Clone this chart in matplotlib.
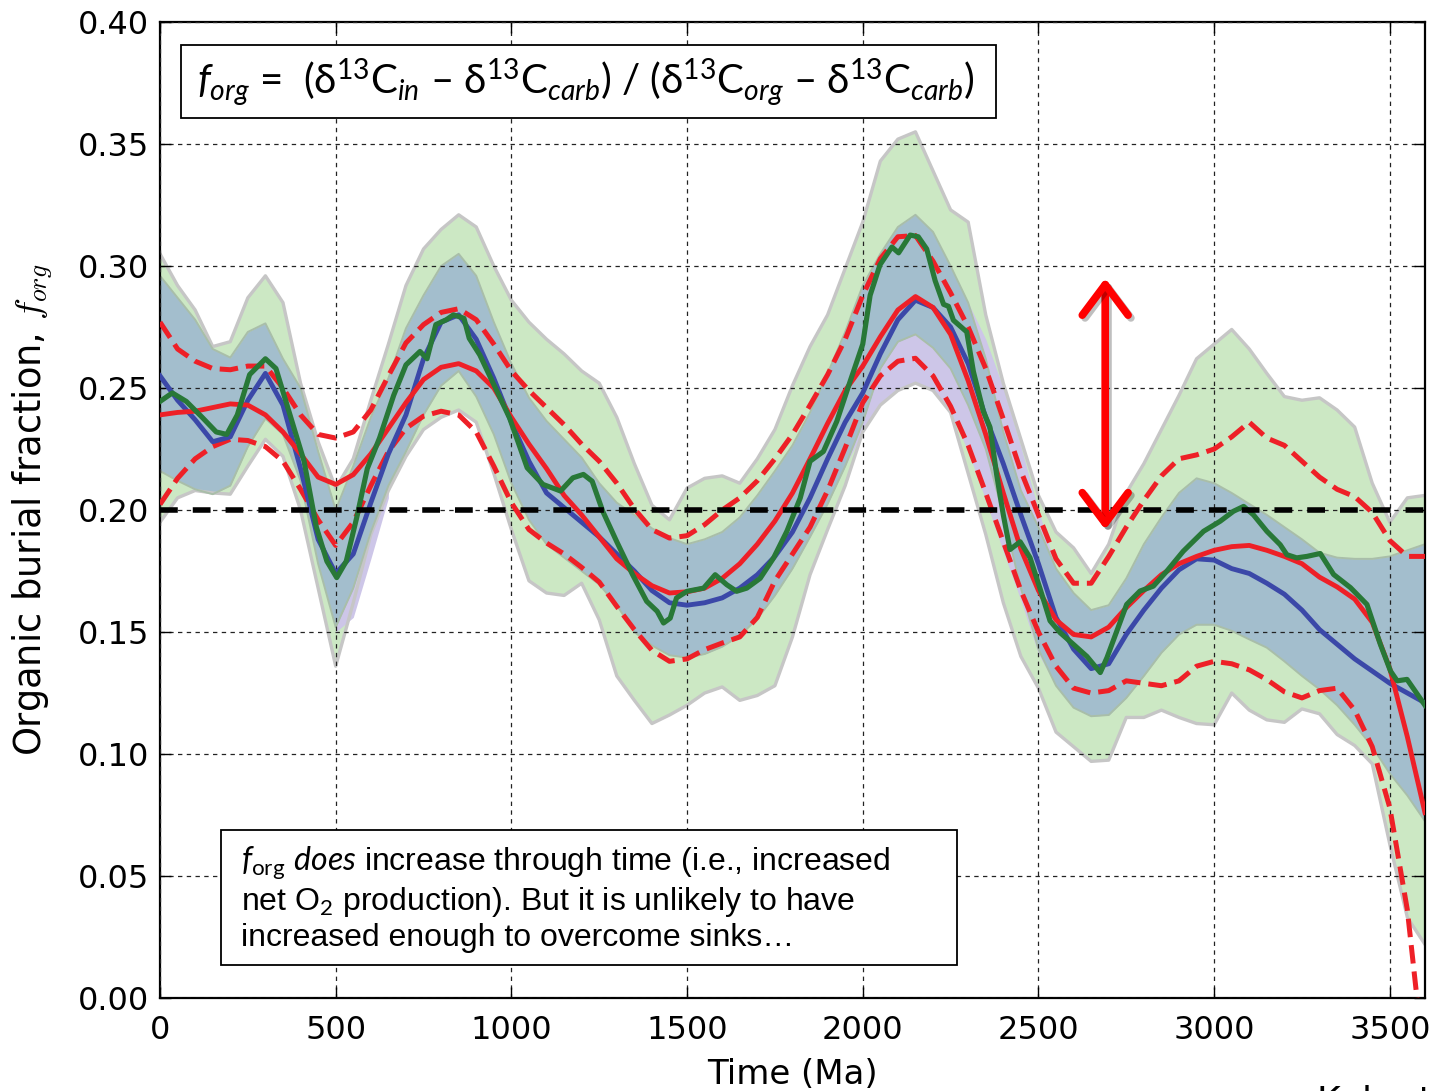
import numpy as np
import matplotlib
matplotlib.use("Agg")
import matplotlib.pyplot as plt
import matplotlib.patheffects as pe
from matplotlib.patches import Rectangle, FancyArrowPatch
from matplotlib.ticker import FormatStrFormatter

# ── data ───────────────────────────────────────────────────────
time_ma = list(range(0, 3601, 50))

mean_blue = [0.255, 0.245, 0.237, 0.228, 0.230, 0.245, 0.256, 0.243, 0.217, 0.188,
             0.174, 0.182, 0.203, 0.223, 0.239, 0.262, 0.277, 0.280, 0.270, 0.254,
             0.236, 0.220, 0.207, 0.201, 0.195, 0.189, 0.182, 0.175, 0.167, 0.162,
             0.161, 0.162, 0.164, 0.168, 0.1735, 0.181, 0.191, 0.205, 0.221, 0.236,
             0.248, 0.264, 0.278, 0.286, 0.283, 0.275, 0.260, 0.238, 0.219, 0.198,
             0.178, 0.156, 0.143, 0.135, 0.137, 0.149, 0.159, 0.168, 0.1755, 0.180,
             0.1795, 0.176, 0.174, 0.170, 0.1655, 0.159, 0.151, 0.145, 0.139, 0.134,
             0.129, 0.125, 0.121]

mean_red = [0.239, 0.240, 0.2405, 0.242, 0.2435, 0.243, 0.239, 0.232, 0.223, 0.2135,
            0.2105, 0.2145, 0.223, 0.2335, 0.244, 0.2535, 0.2585, 0.260, 0.257, 0.250,
            0.238, 0.227, 0.217, 0.206, 0.198, 0.189, 0.180, 0.174, 0.169, 0.166,
            0.1665, 0.168, 0.172, 0.178, 0.186, 0.1955, 0.207, 0.221, 0.2355, 0.249,
            0.259, 0.271, 0.282, 0.2875, 0.283, 0.272, 0.253, 0.231, 0.207, 0.184,
            0.167, 0.155, 0.149, 0.148, 0.152, 0.160, 0.167, 0.1735, 0.178, 0.181,
            0.1835, 0.185, 0.1855, 0.1835, 0.181, 0.178, 0.1725, 0.1685, 0.1635, 0.154,
            0.135, 0.107, 0.076]

red_upper = [0.277, 0.266, 0.261, 0.258, 0.2575, 0.259, 0.259, 0.250, 0.239, 0.231,
             0.2295, 0.232, 0.241, 0.255, 0.2685, 0.276, 0.281, 0.2825, 0.278, 0.268,
             0.257, 0.249, 0.242, 0.235, 0.227, 0.220, 0.211, 0.2005, 0.192, 0.1885,
             0.1895, 0.194, 0.200, 0.205, 0.212, 0.221, 0.231, 0.243, 0.2555, 0.270,
             0.288, 0.303, 0.312, 0.3125, 0.302, 0.289, 0.275, 0.258, 0.2373, 0.216,
             0.198, 0.180, 0.170, 0.170, 0.181, 0.193, 0.204, 0.214, 0.221, 0.2226,
             0.225, 0.230, 0.236, 0.2295, 0.2265, 0.220, 0.2135, 0.2085, 0.2055, 0.199,
             0.1875, 0.181, 0.181]

red_lower = [0.2023, 0.213, 0.221, 0.226, 0.229, 0.2285, 0.226, 0.220, 0.2085, 0.196,
             0.1855, 0.195, 0.210, 0.224, 0.2335, 0.2385, 0.2405, 0.239, 0.232, 0.218,
             0.203, 0.192, 0.1865, 0.182, 0.1765, 0.1705, 0.1605, 0.151, 0.1425, 0.138,
             0.139, 0.1428, 0.1455, 0.148, 0.156, 0.171, 0.182, 0.193, 0.208, 0.2255,
             0.244, 0.255, 0.261, 0.2622, 0.255, 0.2425, 0.2265, 0.207, 0.187, 0.167,
             0.150, 0.136, 0.127, 0.125, 0.126, 0.130, 0.129, 0.128, 0.130, 0.136,
             0.138, 0.137, 0.1345, 0.1305, 0.1255, 0.123, 0.126, 0.127, 0.118, 0.103,
             0.078, 0.036, -0.03]

band_hi = [0.296, 0.287, 0.278, 0.266, 0.2625, 0.273, 0.2765, 0.262, 0.250, 0.224,
           0.200, 0.218, 0.238, 0.254, 0.2745, 0.288, 0.300, 0.305, 0.296, 0.277,
           0.260, 0.246, 0.2365, 0.229, 0.2215, 0.211, 0.203, 0.198, 0.1925, 0.1885,
           0.186, 0.188, 0.191, 0.197, 0.206, 0.216, 0.2265, 0.240, 0.256, 0.273,
           0.292, 0.305, 0.316, 0.321, 0.314, 0.300, 0.285, 0.262, 0.232, 0.208,
           0.193, 0.176, 0.166, 0.159, 0.161, 0.172, 0.186, 0.197, 0.207, 0.213,
           0.211, 0.207, 0.2025, 0.198, 0.193, 0.188, 0.1825, 0.1805, 0.180, 0.180,
           0.181, 0.1835, 0.186]

band_lo = [0.216, 0.212, 0.2085, 0.2065, 0.210, 0.226, 0.2375, 0.231, 0.212, 0.178,
           0.152, 0.168, 0.191, 0.210, 0.224, 0.239, 0.251, 0.257, 0.2465, 0.231,
           0.211, 0.196, 0.186, 0.1805, 0.175, 0.1695, 0.161, 0.150, 0.1445, 0.1405,
           0.1395, 0.141, 0.144, 0.1485, 0.1555, 0.165, 0.176, 0.189, 0.2025, 0.218,
           0.236, 0.258, 0.269, 0.272, 0.2665, 0.258, 0.243, 0.225, 0.198, 0.168,
           0.143, 0.128, 0.119, 0.1155, 0.116, 0.123, 0.132, 0.1415, 0.149, 0.153,
           0.153, 0.1505, 0.147, 0.1436, 0.138, 0.132, 0.1265, 0.120, 0.112, 0.103,
           0.092, 0.083, 0.0725]

green_hi = [0.305, 0.292, 0.282, 0.267, 0.269, 0.287, 0.296, 0.285, 0.252, 0.228,
            0.209, 0.221, 0.245, 0.268, 0.292, 0.307, 0.315, 0.321, 0.316, 0.300,
            0.286, 0.277, 0.270, 0.264, 0.257, 0.252, 0.238, 0.219, 0.202, 0.196,
            0.209, 0.213, 0.214, 0.211, 0.221, 0.233, 0.251, 0.267, 0.280, 0.299,
            0.318, 0.343, 0.352, 0.355, 0.339, 0.323, 0.318, 0.280, 0.252, 0.229,
            0.206, 0.191, 0.1845, 0.174, 0.186, 0.207, 0.219, 0.233, 0.247, 0.262,
            0.268, 0.274, 0.266, 0.256, 0.2465, 0.245, 0.246, 0.241, 0.234, 0.211,
            0.195, 0.205, 0.206]

green_lo = [0.195, 0.205, 0.208, 0.207, 0.2065, 0.218, 0.229, 0.222, 0.200, 0.168,
            0.136, 0.162, 0.190, 0.208, 0.222, 0.233, 0.238, 0.241, 0.236, 0.215,
            0.192, 0.171, 0.166, 0.165, 0.170, 0.155, 0.132, 0.122, 0.1125, 0.116,
            0.120, 0.125, 0.1275, 0.122, 0.124, 0.128, 0.148, 0.1735, 0.192, 0.210,
            0.232, 0.243, 0.249, 0.252, 0.249, 0.240, 0.215, 0.190, 0.162, 0.140,
            0.127, 0.109, 0.103, 0.097, 0.0975, 0.115, 0.115, 0.118, 0.115, 0.1125,
            0.112, 0.125, 0.118, 0.114, 0.113, 0.1185, 0.1165, 0.108, 0.1035, 0.096,
            0.063, 0.033, 0.022]

# lavender patches that poke out of the steel band
purple_x = [1950, 2000, 2050, 2100, 2150, 2200, 2250, 2300, 2350, 2400, 2450, 2500, 2550]
purple_lo = [0.218, 0.232, 0.243, 0.249, 0.252, 0.249, 0.240, 0.224, 0.204, 0.183, 0.163, 0.141, 0.128]
purple_hi = [0.273, 0.292, 0.305, 0.316, 0.321, 0.314, 0.300, 0.285, 0.270, 0.250, 0.226, 0.200, 0.176]
purple_v_x = [500, 550, 600, 650]
purple_v_lo = [0.150, 0.156, 0.180, 0.205]
purple_v_hi = [0.200, 0.218, 0.238, 0.254]

# data curve (green), irregular sampling
data_x = [0, 35, 75, 120, 160, 190, 220, 255, 300, 330, 370, 410, 445, 475, 503, 530,
          560, 590, 625, 665, 700, 740, 760, 785, 815, 835, 865, 880, 910, 950, 995,
          1045, 1090, 1140, 1175, 1205, 1230, 1260, 1300, 1345, 1385, 1415, 1433, 1452,
          1470, 1500, 1547, 1580, 1613, 1641, 1670, 1708, 1746, 1784, 1822, 1850, 1888,
          1926, 1964, 2000, 2021, 2049, 2083, 2102, 2135, 2158, 2182, 2206, 2230, 2244,
          2258, 2296, 2315, 2343, 2362, 2381, 2400, 2419, 2448, 2476, 2505, 2533, 2562,
          2600, 2638, 2676, 2695, 2723, 2751, 2789, 2827, 2865, 2912, 2970, 3017, 3055,
          3084, 3112, 3150, 3188, 3207, 3235, 3264, 3302, 3340, 3388, 3435, 3473, 3502,
          3521, 3549, 3600]
data_y = [0.2445, 0.248, 0.2445, 0.238, 0.232, 0.231, 0.239, 0.2555, 0.262, 0.258,
          0.239, 0.220, 0.193, 0.179, 0.1723, 0.179, 0.197, 0.217, 0.2296, 0.247,
          0.2595, 0.265, 0.262, 0.276, 0.278, 0.280, 0.2786, 0.2704, 0.2636, 0.2514,
          0.2377, 0.2173, 0.2105, 0.2078, 0.2132, 0.2146, 0.2118, 0.1995, 0.187, 0.1735,
          0.1626, 0.1585, 0.1537, 0.1557, 0.164, 0.1667, 0.168, 0.1735, 0.1694, 0.1667,
          0.168, 0.172, 0.1803, 0.1913, 0.2049, 0.220, 0.224, 0.2363, 0.2527, 0.268,
          0.288, 0.3005, 0.3078, 0.3054, 0.3127, 0.312, 0.307, 0.294, 0.2843, 0.2835,
          0.2778, 0.273, 0.2567, 0.2405, 0.234, 0.2146, 0.198, 0.1838, 0.187, 0.1805,
          0.1676, 0.1546, 0.1497, 0.1449, 0.140, 0.1334, 0.1395, 0.1504, 0.1613, 0.1668,
          0.1688, 0.1749, 0.1831, 0.1913, 0.1954, 0.1995, 0.2015, 0.198, 0.1913, 0.1858,
          0.1817, 0.1804, 0.181, 0.1822, 0.1736, 0.1682, 0.1613, 0.145, 0.134, 0.130,
          0.1306, 0.120]

threshold = 0.20
arrow_x, arrow_lo, arrow_hi = 2690, 0.192, 0.295

x_ticks = [0, 500, 1000, 1500, 2000, 2500, 3000, 3500]
y_ticks = [0.00, 0.05, 0.10, 0.15, 0.20, 0.25, 0.30, 0.35, 0.40]

formula = (r"$f_{org}$ =  (δ$^{13}$C$_{in}$ – δ$^{13}$C$_{carb}$) / "
           r"(δ$^{13}$C$_{org}$ – δ$^{13}$C$_{carb}$)")
note = (r"$f_{\mathrm{org}}$ $\mathit{does}$ increase through time (i.e., increased" + "\n"
        + r"net O$_2$ production). But it is unlikely to have" + "\n"
        + "increased enough to overcome sinks…")

# ── style ──────────────────────────────────────────────────────
plt.rcParams["font.family"] = ["DejaVu Sans"]
plt.rcParams["mathtext.fontset"] = "custom"
plt.rcParams["mathtext.rm"] = "Lato"
plt.rcParams["mathtext.it"] = "Lato:italic"
plt.rcParams["mathtext.bf"] = "Lato:bold"

RED = "#ee2027"
BLUE = "#3b48a8"
GREEN = "#287837"
LIGHT_GREEN = "#cce8c4"
STEEL = "#a3becd"
LAVENDER = "#cdc6e8"

fig = plt.figure(figsize=(14.35, 10.91), dpi=100)
ax = fig.add_axes([0.1115, 0.0852, 0.8815, 0.8946])

# bands
ax.fill_between(time_ma, green_lo, green_hi, color=LIGHT_GREEN, lw=0, zorder=1)
ax.fill_between(purple_x, purple_lo, purple_hi, color=LAVENDER, lw=0, zorder=1.2)
ax.fill_between(purple_v_x, purple_v_lo, purple_v_hi, color=LAVENDER, lw=0, zorder=1.2)
ax.fill_between(time_ma, band_lo, band_hi, color=STEEL, lw=0, zorder=1.3)
for edge in (green_lo, green_hi):
    ax.plot(time_ma, edge, color="#c6c6c6", lw=2.4, zorder=1.5)
for edge in (band_lo, band_hi):
    ax.plot(time_ma, edge, color="#a9bea9", lw=1.4, zorder=1.6)

# curves
ax.plot(time_ma, red_upper, color=RED, lw=3.6, ls="--", zorder=3)
ax.plot(time_ma, red_lower, color=RED, lw=3.6, ls="--", zorder=3)
ax.plot(time_ma, mean_blue, color=BLUE, lw=3.5, zorder=3.1)
ax.plot(time_ma, mean_red, color=RED, lw=3.5, zorder=3.2)
ax.plot(data_x, data_y, color=GREEN, lw=3.7, zorder=3.3)
ax.axhline(threshold, color="k", lw=4, dashes=(3.2, 2.7), zorder=4)

# double arrow
arr = FancyArrowPatch((arrow_x, arrow_lo), (arrow_x, arrow_hi),
                      arrowstyle="<->,head_length=1.0,head_width=0.75",
                      mutation_scale=22, color="#ff0000", lw=5.5,
                      shrinkA=0, shrinkB=0, zorder=5,
                      path_effects=[pe.SimpleLineShadow(offset=(2, -2), alpha=0.25),
                                    pe.Normal()])
ax.add_patch(arr)

# axes
ax.set_xlim(0, 3600)
ax.set_ylim(0, 0.40)
ax.set_xticks(x_ticks)
ax.set_yticks(y_ticks)
ax.yaxis.set_major_formatter(FormatStrFormatter("%.2f"))
ax.tick_params(direction="in", length=8, width=1, top=True, right=True, labelsize=23)
ax.tick_params(axis="x", pad=12)
ax.tick_params(axis="y", pad=8)
ax.set_axisbelow(False)
ax.grid(True, color="#222222", lw=0.9, linestyle=(0, (3.5, 3.5)))
for sp in ax.spines.values():
    sp.set_linewidth(1.6)

ax.set_xlabel("Time (Ma)", fontsize=24.5)
ax.xaxis.set_label_coords(0.5, -0.061)
ax.set_ylabel(r"Organic burial fraction, $f_{org}$", fontsize=26.5, math_fontfamily="cm")
ax.yaxis.set_label_coords(-0.083, 0.5)

# formula box
ax.add_patch(Rectangle((0.0166, 0.9016), 0.6443, 0.0748, transform=ax.transAxes,
                       facecolor="white", edgecolor="k", lw=1.3, zorder=6))
ax.text(0.029, 0.938, formula, transform=ax.transAxes, ha="left", va="center",
        fontsize=29, family=["Lato", "DejaVu Sans"], zorder=7)

# note box
ax.add_patch(Rectangle((0.0482, 0.0338), 0.5818, 0.1383, transform=ax.transAxes,
                       facecolor="white", edgecolor="k", lw=1.3, zorder=6))
ax.text(0.064, 0.158, note, transform=ax.transAxes, ha="left", va="top",
        fontsize=23, linespacing=1.18,
        family=["Liberation Sans Narrow", "Liberation Sans", "DejaVu Sans"], zorder=7)

# citation text clipped at the bottom edge, as in the original slide
fig.text(0.918, 0.0055, "Kah et al.", ha="left", va="top", fontsize=26)

fig.savefig("out.png", dpi=100)
